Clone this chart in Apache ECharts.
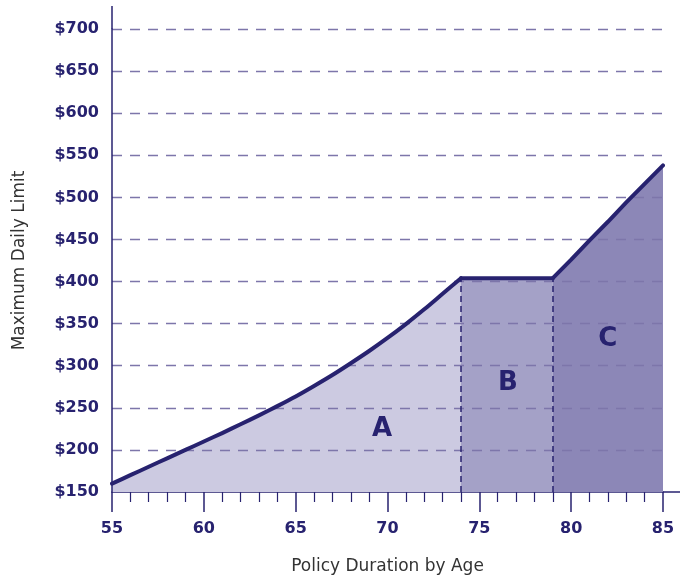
<!DOCTYPE html>
<html>
<head>
<meta charset="utf-8">
<script src="https://cdn.jsdelivr.net/npm/echarts@6/dist/echarts.min.js"></script>
<style>html,body{margin:0;padding:0;background:#fff;}#c{width:680px;height:580px;}</style>
</head>
<body>
<div id="c"></div>
<script>
// Data
const agesA = [55,56,57,58,59,60,61,62,63,64,65,66,67,68,69,70,71,72,73,74];
const valuesA = [160,170,180,190,200,210,220,230.5,241,252,263.5,276,289,303,317.5,333,349.5,367,385.5,404];
const agesB = [74,79];
const valuesB = [404,404];
const agesC = [79,80,81,82,83,84,85];
const valuesC = [404,426,449,471,494,516,538];
const regionNames = ['A','B','C'];
const yTicks = [150,200,250,300,350,400,450,500,550,600,650,700];
const xTicks = [55,60,65,70,75,80,85];

const navy = '#27226f';
const pairs = (xs, ys) => xs.map((x, i) => [x, ys[i]]);
const dataA = pairs(agesA, valuesA);
const dataB = pairs(agesB, valuesB);
const dataC = pairs(agesC, valuesC);

const chart = echarts.init(document.getElementById('c'), null, {renderer: 'canvas'});
const lblFont = {fontFamily: 'DejaVu Sans', fontWeight: 'bold', fontSize: 16, color: navy};

function areaSeries(data, color, smooth) {
  return {
    type: 'line', data: data, symbol: 'none', z: 2, silent: true, smooth: smooth,
    lineStyle: {width: 0}, areaStyle: {color: color, opacity: 1}
  };
}
function lineSeries(data, smooth) {
  return {
    type: 'line', data: data, symbol: 'none', z: 5, silent: true, smooth: smooth,
    lineStyle: {color: navy, width: 4, cap: 'round', join: 'round'}
  };
}

const labelLine = lineSeries(dataB, false);
labelLine.markLine = {
  silent: true, symbol: 'none', z: 4,
  lineStyle: {color: navy, width: 1.5, type: [6, 4]},
  label: {show: false},
  data: [
    [{coord: [agesB[0], yTicks[0]]}, {coord: [agesB[0], valuesB[0]]}],
    [{coord: [agesC[0], yTicks[0]]}, {coord: [agesC[0], valuesC[0]]}]
  ]
};
labelLine.markPoint = {
  silent: true, symbol: 'circle', symbolSize: 0,
  label: {show: true, position: 'inside', formatter: '{b}', fontFamily: 'DejaVu Sans', fontWeight: 'bold', fontSize: 26, color: navy},
  data: [
    {name: regionNames[0], coord: [69.7, 224.5]},
    {name: regionNames[1], coord: [76.55, 279]},
    {name: regionNames[2], coord: [82.0, 331]}
  ]
};

chart.setOption({
  animation: false,
  grid: {left: 112, right: 17, top: 29, bottom: 86},
  xAxis: {
    type: 'value', min: xTicks[0], max: xTicks[xTicks.length - 1], interval: 5,
    axisLine: {show: true, lineStyle: {color: navy, width: 1.5}},
    axisTick: {show: true, length: 20, lineStyle: {color: navy, width: 1.5}},
    minorTick: {show: true, splitNumber: 5, length: 10, lineStyle: {color: navy, width: 1.2}},
    splitLine: {show: false},
    axisLabel: Object.assign({margin: 29}, lblFont),
    name: 'Policy Duration by Age', nameLocation: 'middle', nameGap: 66,
    nameTextStyle: {fontFamily: 'DejaVu Sans', fontSize: 17, color: '#333'}
  },
  yAxis: {
    type: 'value', min: yTicks[0], max: yTicks[yTicks.length - 1], interval: 50, z: 3,
    axisLine: {show: true, lineStyle: {color: navy, width: 1.5}},
    axisTick: {show: false},
    splitLine: {show: true, showMinLine: false, lineStyle: {color: '#7d76aa', width: 1.3, type: [10, 8]}},
    axisLabel: Object.assign({margin: 13, formatter: v => '$' + v}, lblFont),
    name: 'Maximum Daily Limit', nameLocation: 'middle', nameGap: 84, nameRotate: 90,
    nameTextStyle: {fontFamily: 'DejaVu Sans', fontSize: 17, color: '#333'}
  },
  series: [
    areaSeries(dataA, '#cccae1', 0.3),
    areaSeries(dataB, '#a4a1c7', false),
    areaSeries(dataC, '#8c87b7', false),
    lineSeries(dataA, 0.3),
    labelLine,
    lineSeries(dataC, false)
  ]
});

// axis line extensions beyond the plot (decoration)
const bl = chart.convertToPixel({gridIndex: 0}, [xTicks[xTicks.length - 1], yTicks[0]]);
const tl = chart.convertToPixel({gridIndex: 0}, [xTicks[0], yTicks[yTicks.length - 1]]);
chart.setOption({
  graphic: [
    {type: 'line', shape: {x1: tl[0], y1: tl[1], x2: tl[0], y2: tl[1] - 23}, style: {stroke: navy, lineWidth: 1.5}, z: 10},
    {type: 'line', shape: {x1: bl[0], y1: bl[1], x2: bl[0] + 17, y2: bl[1]}, style: {stroke: navy, lineWidth: 1.5}, z: 10}
  ]
});
</script>
</body>
</html>
